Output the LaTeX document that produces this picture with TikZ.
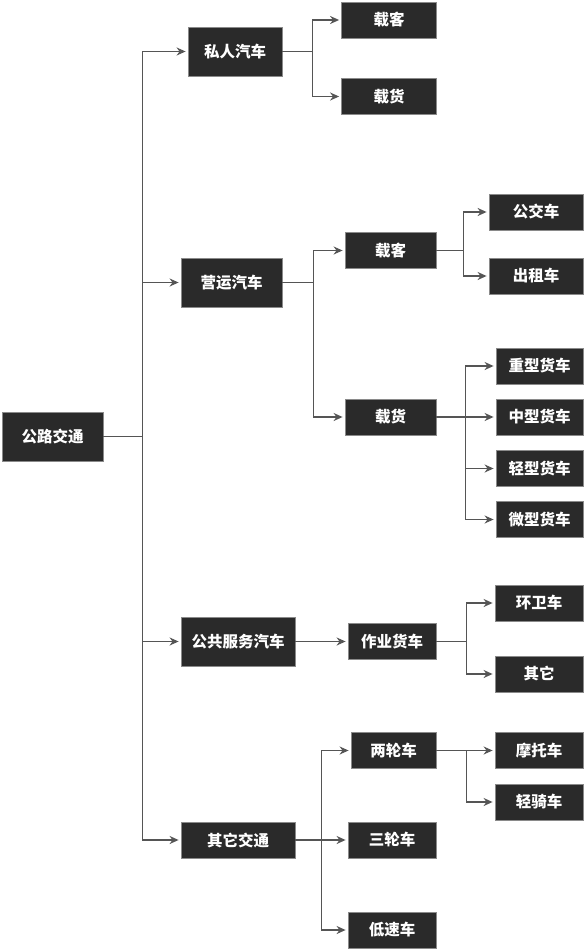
\documentclass[tikz,border=0pt]{standalone}
\usepackage{fontspec}
\newfontfamily\cjk{Noto Sans CJK SC}
\usepackage{tikz}
\usetikzlibrary{arrows.meta,positioning}
\definecolor{boxfill}{HTML}{2A2A2A}
\definecolor{boxline}{HTML}{8A8A8A}
\definecolor{wire}{HTML}{555555}

\begin{document}
\begin{tikzpicture}[x=1pt, y=-1pt,
  box/.style={fill=boxfill, draw=boxline, line width=0.8pt, text=white, inner sep=0pt,
    minimum height=36pt, font=\cjk\bfseries\fontsize{15.5}{17}\selectfont},
  tall/.style={minimum height=49pt},
  arr/.style={draw=wire, line width=1.5pt, -{Stealth[length=9pt,width=8pt]}, shorten >=2pt}]
\useasboundingbox (0,0) rectangle (585,950);
% level 0 and 1
\node[box, tall, minimum width=101pt] (root) at (52.5,436.5) {公路交通};
\node[box, tall, minimum width=94pt] (private) at (235,51.5) {私人汽车};
\node[box, tall, minimum width=101pt] (commerce) at (231.5,282.5) {营运汽车};
\node[box, tall, minimum width=114pt] (public) at (238,641.5) {公共服务汽车};
\node[box, minimum width=114pt] (othertr) at (238,840) {其它交通};
% level 2
\node[box, minimum width=95pt] (prpass) at (389,20) {载客};
\node[box, minimum width=95pt] (prgoods) at (389,96.5) {载货};
\node[box, minimum width=91pt] (cmpass) at (390.5,250.5) {载客};
\node[box, minimum width=91pt] (cmgoods) at (390.5,417) {载货};
\node[box, minimum width=88pt] (worktruck) at (392,641.5) {作业货车};
\node[box, minimum width=85pt] (twowh) at (393.5,750.5) {两轮车};
\node[box, minimum width=88pt] (threewh) at (392,840) {三轮车};
\node[box, minimum width=88pt] (lowspd) at (392,930) {低速车};
% level 3
\node[box, minimum width=94pt] (bus) at (536,212) {公交车};
\node[box, minimum width=94pt] (taxi) at (536,276) {出租车};
\node[box, minimum width=87pt] (heavy) at (539.5,366) {重型货车};
\node[box, minimum width=87pt] (medium) at (539.5,417) {中型货车};
\node[box, minimum width=87pt] (light) at (539.5,468.5) {轻型货车};
\node[box, minimum width=87pt] (micro) at (539.5,519.5) {微型货车};
\node[box, minimum width=88pt] (sanit) at (539,603) {环卫车};
\node[box, minimum width=88pt] (others) at (539,674) {其它};
\node[box, minimum width=88pt] (moto) at (539,750.5) {摩托车};
\node[box, minimum width=88pt] (moped) at (539,802) {轻骑车};
% connectors
\foreach \c in {private,commerce,public,othertr}
  \draw[arr] (root.east) -- ++(39,0) |- (\c.west);
\foreach \c in {prpass,prgoods}
  \draw[arr] (private.east) -- ++(30,0) |- (\c.west);
\foreach \c in {cmpass,cmgoods}
  \draw[arr] (commerce.east) -- ++(31,0) |- (\c.west);
\foreach \c in {bus,taxi}
  \draw[arr] (cmpass.east) -- ++(27,0) |- (\c.west);
\foreach \c in {heavy,medium,light,micro}
  \draw[arr] (cmgoods.east) -- ++(29,0) |- (\c.west);
\draw[arr] (public) -- (worktruck);
\foreach \c in {sanit,others}
  \draw[arr] (worktruck.east) -- ++(30,0) |- (\c.west);
\foreach \c in {twowh,threewh,lowspd}
  \draw[arr] (othertr.east) -- ++(26,0) |- (\c.west);
\foreach \c in {moto,moped}
  \draw[arr] (twowh.east) -- ++(30,0) |- (\c.west);
\end{tikzpicture}
\end{document}
